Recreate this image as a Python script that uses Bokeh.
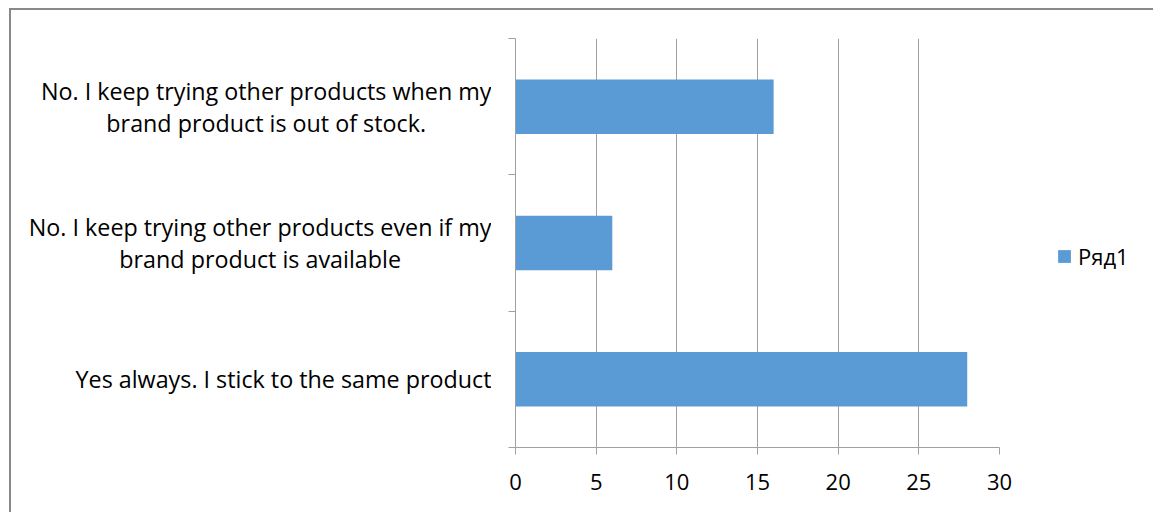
from bokeh.plotting import figure
from bokeh.layouts import row
from bokeh.models import (Range1d, FixedTicker, Legend, LegendItem, ColumnDataSource)
from bokeh.core.properties import value
from bokeh.embed import file_html
from bokeh.resources import INLINE

categories = [
    "No. I keep trying other products when my\nbrand product is out of stock.",
    "No. I keep trying other products even if my\nbrand product is available",
    "Yes always. I stick to the same product",
]
values = [16, 6, 28]
series_name = "Ряд1"
x_ticks = [0, 5, 10, 15, 20, 25, 30]

n = len(categories)
ypos = [n - i - 0.5 for i in range(n)]
src = ColumnDataSource(dict(y=ypos, v=values, label=categories))

FONT = "Open Sans"
GRAY = "#a0a0a0"
BAR = "#5b9bd5"

y_range = Range1d(0, n)
TOP, BOTTOM = 28, 65
H = 502

# ---- category labels (left part) ----
lab_range = Range1d(0, 1)
pl = figure(width=480, height=H, output_backend="svg", toolbar_location=None,
            x_range=lab_range, y_range=y_range,
            x_axis_location=None, y_axis_location=None,
            min_border_left=0, min_border_right=0,
            min_border_top=TOP, min_border_bottom=BOTTOM)
pl.outline_line_color = None
pl.xgrid.visible = False
pl.ygrid.visible = False
pl.text(x=lab_range.end, y="y", text="label", source=src,
        anchor="center_right", text_align="center", text_baseline="middle",
        text_font=value(FONT), text_font_size="23.3px", text_line_height=1.0,
        text_color="#000000")

# ---- bar chart ----
p = figure(width=528, height=H, output_backend="svg", toolbar_location=None,
           x_range=Range1d(0, 30), y_range=y_range,
           min_border_left=24, min_border_right=20, min_border_top=TOP,
           min_border_bottom=BOTTOM)
p.outline_line_color = None

r = p.hbar(y="y", right="v", left=0, height=0.4, source=src,
           fill_color=BAR, line_color=None)

p.xaxis.ticker = FixedTicker(ticks=x_ticks)
p.xaxis.axis_line_color = GRAY
p.xaxis.major_tick_line_color = GRAY
p.xaxis.major_tick_out = 7
p.xaxis.major_tick_in = 0
p.xaxis.minor_tick_line_color = None
p.xaxis.major_label_text_font = FONT
p.xaxis.major_label_text_font_size = "22px"
p.xaxis.major_label_text_color = "#000000"
p.xaxis.major_label_standoff = 19
p.xgrid.ticker = FixedTicker(ticks=x_ticks)
p.xgrid.grid_line_color = GRAY
p.ygrid.grid_line_color = None

p.yaxis.ticker = FixedTicker(ticks=[], minor_ticks=list(range(n + 1)))
p.yaxis.axis_line_color = GRAY
p.yaxis.major_tick_line_color = None
p.yaxis.minor_tick_line_color = GRAY
p.yaxis.minor_tick_out = 7
p.yaxis.minor_tick_in = 0

# ---- legend part ----
pg = figure(width=134, height=H, output_backend="svg", toolbar_location=None,
            x_range=Range1d(0, 1), y_range=Range1d(0, 1),
            x_axis_location=None, y_axis_location=None,
            min_border_left=0, min_border_right=0,
            min_border_top=0, min_border_bottom=0)
pg.outline_line_color = None
pg.xgrid.visible = False
pg.ygrid.visible = False
rg = pg.hbar(y="y", right="v", left=0, height=0.4, source=src,
             fill_color=BAR, line_color=None, visible=False)
legend = Legend(items=[LegendItem(label=series_name, renderers=[rg])],
                location=(37, 176), padding=0, margin=0,
                glyph_width=16, glyph_height=16, label_standoff=6,
                border_line_color=None, background_fill_alpha=0,
                label_text_font=FONT, label_text_font_size="22px",
                label_text_color="#000000")
pg.add_layout(legend)

layout = row(pl, p, pg, spacing=0,
             styles={"margin-left": "9px", "margin-top": "8px",
                     "border-left": "2px solid #898989",
                     "border-top": "2px solid #898989"})

open("out.html", "w").write(file_html(layout, INLINE))
